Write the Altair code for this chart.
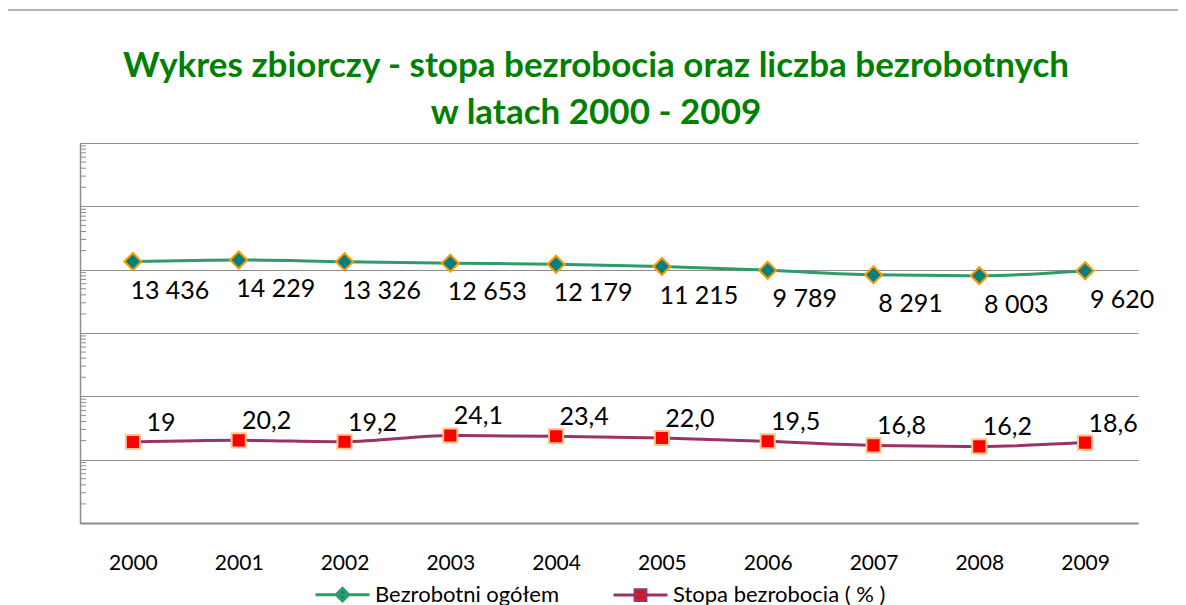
import altair as alt
import pandas as pd

years = ["2000", "2001", "2002", "2003", "2004", "2005", "2006", "2007", "2008", "2009"]
unemployed = [13436, 14229, 13326, 12653, 12179, 11215, 9789, 8291, 8003, 9620]
unemployed_labels = ["13 436", "14 229", "13 326", "12 653", "12 179",
                     "11 215", "9 789", "8 291", "8 003", "9 620"]
rate = [19.0, 20.2, 19.2, 24.1, 23.4, 22.0, 19.5, 16.8, 16.2, 18.6]
rate_labels = ["19", "20,2", "19,2", "24,1", "23,4", "22,0", "19,5", "16,8", "16,2", "18,6"]
series_names = ["Bezrobotni ogółem", "Stopa bezrobocia ( % )"]
major_ticks = [1, 10, 100, 1000, 10000, 100000, 1000000]
title_lines = ["Wykres zbiorczy - stopa bezrobocia oraz liczba bezrobotnych",
               "w latach 2000 - 2009"]

GREEN_LINE = "#2E9B68"
TEAL = "#008080"
ORANGE = "#FF9900"
MAROON = "#993366"
RED = "#FF0000"
PEACH = "#FFC58F"
GRID = "#8C8C8C"
FONT = "Lato"

df_u = pd.DataFrame({"year": years, "value": unemployed, "label": unemployed_labels,
                     "series": series_names[0]})
df_r = pd.DataFrame({"year": years, "value": rate, "label": rate_labels,
                     "series": series_names[1]})
df_all = pd.concat([df_u, df_r], ignore_index=True)

minor = [m * d for d in major_ticks[:-1] for m in range(2, 10)]
df_minor = pd.DataFrame({"value": minor})
df_one = pd.DataFrame({"a": [0]})

x_enc = alt.X("year:O", scale=alt.Scale(type="point", padding=0.5),
              axis=alt.Axis(title=None, labelAngle=0, ticks=False, domainColor=GRID,
                            domainWidth=2, labelFont=FONT, labelFontSize=21,
                            labelColor="#000000", labelPadding=29, grid=False))
y_scale = alt.Scale(type="log", domain=[1, 1000000])
y_axis = alt.Axis(title=None, labels=False, ticks=False, values=major_ticks,
                  grid=True, gridColor=GRID, gridWidth=1, domainColor=GRID,
                  domainWidth=1.5)
y_enc = alt.Y("value:Q", scale=y_scale, axis=y_axis)

line_u = alt.Chart(df_u).mark_line(color=GREEN_LINE, strokeWidth=3, interpolate="monotone").encode(x=x_enc, y=y_enc)
pts_u = alt.Chart(df_u).mark_point(shape="diamond", filled=True, fill=TEAL, stroke=ORANGE,
                                   strokeWidth=2, size=290, opacity=1).encode(x=x_enc, y=y_enc)
txt_u = alt.Chart(df_u).mark_text(font=FONT, fontSize=25, dx=37, dy=29, color="#000000").encode(
    x=x_enc, y=y_enc, text="label:N")

line_r = alt.Chart(df_r).mark_line(color=MAROON, strokeWidth=3, interpolate="monotone").encode(x=x_enc, y=y_enc)
pts_r = alt.Chart(df_r).mark_point(shape="square", filled=True, fill=RED, stroke=PEACH,
                                   strokeWidth=2, size=200, opacity=1).encode(x=x_enc, y=y_enc)
txt_r = alt.Chart(df_r).mark_text(font=FONT, fontSize=25, dx=28, dy=-19, color="#000000").encode(
    x=x_enc, y=y_enc, text="label:N")

minor_ticks = alt.Chart(df_minor).mark_rule(color=GRID, strokeWidth=1).encode(
    x=alt.value(0), x2=alt.value(6), y=y_enc)

frame_top = alt.Chart(df_one).mark_rule(color="#9A9A9A", strokeWidth=1.5).encode(
    x=alt.value(-76), x2=alt.value(1110), y=alt.value(-133))
frame_left = alt.Chart(df_one).mark_rule(color="#9A9A9A", strokeWidth=1.5).encode(
    x=alt.value(-76), y=alt.value(-133), y2=alt.value(470))

path_d = "M-1,0H1M0,-0.23L0.23,0L0,0.23L-0.23,0Z"
path_s = "M-1,0H1M-0.2,-0.2H0.2V0.2H-0.2Z"
legend_layer = alt.Chart(df_all).mark_point(filled=True, size=0).encode(
    x=x_enc, y=y_enc,
    stroke=alt.Stroke("series:N", scale=alt.Scale(domain=series_names, range=[GREEN_LINE, MAROON]),
                      legend=alt.Legend(title=None)),
    fill=alt.Fill("series:N", scale=alt.Scale(domain=series_names, range=[TEAL, RED]),
                  legend=alt.Legend(title=None)),
    shape=alt.Shape("series:N", scale=alt.Scale(domain=series_names, range=[path_d, path_s]),
                    legend=alt.Legend(title=None)),
)

chart = alt.layer(
    frame_top, frame_left, minor_ticks, line_u, line_r, pts_u, pts_r, txt_u, txt_r, legend_layer
).properties(
    width=1058, height=380,
    title=alt.TitleParams(text=title_lines, font=FONT, fontSize=35, fontWeight="bold",
                          color="#008000", anchor="middle", offset=12, lineHeight=47,
                          dx=-13, dy=134),
    autosize=alt.AutoSizeParams(type="none"),
    padding={"left": 72, "top": 135, "right": 40, "bottom": 90},
).configure_view(stroke=None).configure_legend(
    orient="none", legendX=234, legendY=423, direction="horizontal",
    symbolSize=2916, symbolStrokeWidth=3, labelFont=FONT, labelFontSize=22,
    labelColor="#000000", labelOffset=4, columnPadding=48, symbolOpacity=1,
    labelLimit=400
)

chart.save("out.html", embed_options={"renderer": "svg", "actions": False})
